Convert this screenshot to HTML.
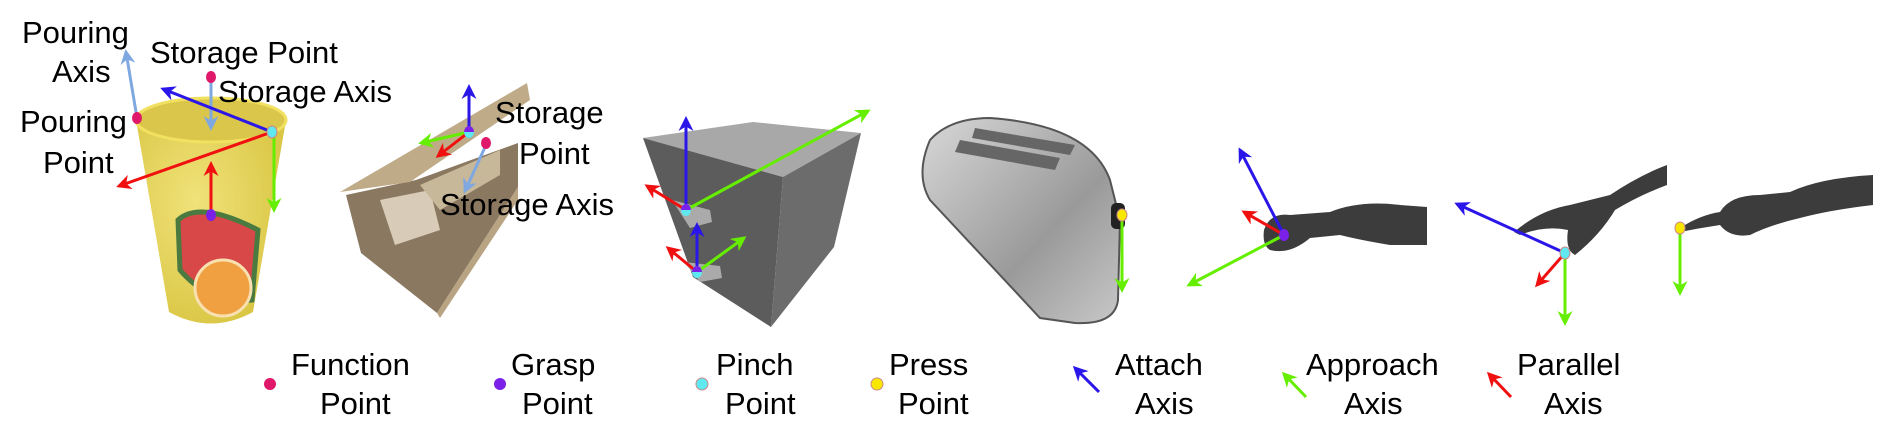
<!DOCTYPE html>
<html><head><meta charset="utf-8"><style>
html,body{margin:0;padding:0;background:#fff;}
svg{display:block;}
text{font-family:"Liberation Sans",sans-serif;font-size:31px;fill:#000;}
</style></head><body>
<svg width="1890" height="442" viewBox="0 0 1890 442">
<defs>
<marker id="hb" markerWidth="5" markerHeight="5" refX="4" refY="2.5" orient="auto" markerUnits="strokeWidth"><path d="M0,0 L5,2.5 L0,5 L1.5,2.5 Z" fill="#2a16e8"/></marker>
<marker id="hr" markerWidth="5" markerHeight="5" refX="4" refY="2.5" orient="auto" markerUnits="strokeWidth"><path d="M0,0 L5,2.5 L0,5 L1.5,2.5 Z" fill="#f01010"/></marker>
<marker id="hg" markerWidth="5" markerHeight="5" refX="4" refY="2.5" orient="auto" markerUnits="strokeWidth"><path d="M0,0 L5,2.5 L0,5 L1.5,2.5 Z" fill="#66ee00"/></marker>
<marker id="hl" markerWidth="5" markerHeight="5" refX="4" refY="2.5" orient="auto" markerUnits="strokeWidth"><path d="M0,0 L5,2.5 L0,5 L1.5,2.5 Z" fill="#80a8e0"/></marker>
<radialGradient id="cupg" cx="0.4" cy="0.4" r="0.7"><stop offset="0" stop-color="#f0e27a"/><stop offset="1" stop-color="#d8c440"/></radialGradient>
<linearGradient id="toastg" x1="0" y1="0" x2="1" y2="1"><stop offset="0" stop-color="#d8d8d8"/><stop offset="0.6" stop-color="#9a9a9a"/><stop offset="1" stop-color="#c8c8c8"/></linearGradient>
</defs>

<!-- Cup -->
<g>
<path d="M136,120 L169,312 Q211,335 253,312 L286,120 Z" fill="url(#cupg)"/>
<ellipse cx="211" cy="120" rx="75" ry="22" fill="#d9c64a" stroke="#f2e060" stroke-width="3"/>
<path d="M178,220 Q200,200 258,230 L252,300 Q210,305 180,270 Z" fill="#d84848" stroke="#4a7a40" stroke-width="5"/>
<circle cx="223" cy="288" r="28" fill="#f0a040" stroke="#f8e0b0" stroke-width="3"/>
</g>
<g>
<line x1="137" y1="118" x2="126" y2="52" stroke="#80a8e0" stroke-width="3" marker-end="url(#hl)"/>
<line x1="211" y1="82" x2="211" y2="128" stroke="#80a8e0" stroke-width="3" marker-end="url(#hl)"/>
<line x1="272" y1="132" x2="163" y2="89" stroke="#2a16e8" stroke-width="3" marker-end="url(#hb)"/>
<line x1="272" y1="132" x2="119" y2="186" stroke="#f01010" stroke-width="3" marker-end="url(#hr)"/>
<line x1="274" y1="132" x2="274" y2="210" stroke="#66ee00" stroke-width="3" marker-end="url(#hg)"/>
<line x1="211" y1="215" x2="211" y2="164" stroke="#f01010" stroke-width="3" marker-end="url(#hr)"/>
<ellipse cx="137" cy="118" rx="5" ry="6" fill="#e0186a"/>
<ellipse cx="211" cy="77" rx="5" ry="6" fill="#e0186a"/>
<ellipse cx="272" cy="132" rx="5" ry="6" fill="#60e8f0" stroke="#c88" stroke-width="1"/>
<ellipse cx="211" cy="215" rx="5" ry="6" fill="#7a20e8"/>
</g>
<g>
<text x="22" y="43">Pouring</text><text x="52" y="82">Axis</text>
<text x="150" y="63">Storage Point</text>
<text x="218" y="102">Storage Axis</text>
<text x="20" y="132">Pouring</text><text x="43" y="173">Point</text>
</g>

<!-- Box -->
<g>
<path d="M346,195 L416,180 L518,143 L518,187 L437,313 L361,253 Z" fill="#8a7860"/>
<path d="M380,200 L430,190 L440,230 L395,245 Z" fill="#d8ccb8"/>
<path d="M420,185 L500,150 L500,175 L440,210 Z" fill="#c8b89a"/>
<path d="M340,192 L527,83 L530,100 L410,182 Z" fill="#c0ab88"/>
<path d="M437,313 L518,187 L518,200 L440,318 Z" fill="#b8a482"/>
</g>
<g>
<line x1="469" y1="132" x2="469" y2="87" stroke="#2a16e8" stroke-width="3" marker-end="url(#hb)"/>
<line x1="469" y1="132" x2="421" y2="143" stroke="#66ee00" stroke-width="3" marker-end="url(#hg)"/>
<line x1="469" y1="132" x2="438" y2="156" stroke="#f01010" stroke-width="3" marker-end="url(#hr)"/>
<line x1="486" y1="145" x2="465" y2="191" stroke="#80a8e0" stroke-width="3" marker-end="url(#hl)"/>
<ellipse cx="469" cy="132" rx="5" ry="6" fill="#7a20e8"/>
<path d="M464,132 A5,6 0 0 0 474,132 Z" fill="#60e8f0"/>
<ellipse cx="486" cy="143" rx="5" ry="6" fill="#e0186a"/>
<text x="495" y="123">Storage</text><text x="519" y="164">Point</text>
<text x="440" y="215">Storage Axis</text>
</g>

<!-- Fridge -->
<g>
<path d="M643,138 L753,122 L861,133 L783,177 Z" fill="#a8a8a8"/>
<path d="M643,138 L783,177 L771,327 L693,277 Z" fill="#5c5c5c"/>
<path d="M783,177 L861,133 L834,247 L771,327 Z" fill="#6c6c6c"/>
<path d="M672,200 L710,210 L712,222 L690,228 Z" fill="#aaa"/>
<path d="M684,262 L720,266 L722,278 L700,282 Z" fill="#aaa"/>
</g>
<g>
<line x1="686" y1="210" x2="686" y2="119" stroke="#2a16e8" stroke-width="3" marker-end="url(#hb)"/>
<line x1="686" y1="210" x2="868" y2="111" stroke="#66ee00" stroke-width="3" marker-end="url(#hg)"/>
<line x1="686" y1="210" x2="647" y2="186" stroke="#f01010" stroke-width="3" marker-end="url(#hr)"/>
<line x1="697" y1="272" x2="697" y2="225" stroke="#2a16e8" stroke-width="3" marker-end="url(#hb)"/>
<line x1="697" y1="272" x2="744" y2="238" stroke="#66ee00" stroke-width="3" marker-end="url(#hg)"/>
<line x1="697" y1="272" x2="668" y2="248" stroke="#f01010" stroke-width="3" marker-end="url(#hr)"/>
<ellipse cx="686" cy="210" rx="5" ry="6" fill="#60e8f0"/><path d="M681,210 A5,6 0 0 1 691,210 Z" fill="#7a20e8"/>
<ellipse cx="697" cy="272" rx="5" ry="6" fill="#60e8f0"/><path d="M692,272 A5,6 0 0 1 702,272 Z" fill="#7a20e8"/>
</g>

<!-- Toaster -->
<g>
<path d="M930,140 Q950,118 990,118 Q1090,125 1110,180 L1120,220 L1118,300 Q1115,325 1075,323 L1040,318 L930,200 Q915,175 930,140 Z" fill="url(#toastg)" stroke="#555" stroke-width="2"/>
<path d="M975,128 L1075,145 L1070,155 L972,138 Z" fill="#666"/>
<path d="M960,140 L1060,158 L1055,170 L955,152 Z" fill="#666"/>
<rect x="1111" y="203" width="14" height="26" rx="5" fill="#222"/>
<line x1="1122" y1="215" x2="1122" y2="290" stroke="#66ee00" stroke-width="3" marker-end="url(#hg)"/>
<ellipse cx="1122" cy="215" rx="5" ry="6" fill="#f8e800" stroke="#c88" stroke-width="1"/>
</g>

<!-- Hands -->
<g>
<path d="M1264,230 Q1270,212 1290,215 L1330,212 Q1360,200 1400,205 L1427,207 L1427,245 L1390,245 Q1360,240 1340,235 L1310,238 Q1290,255 1270,250 Q1262,245 1264,230 Z" fill="#3c3c3c"/>
<line x1="1284" y1="235" x2="1240" y2="150" stroke="#2a16e8" stroke-width="3" marker-end="url(#hb)"/>
<line x1="1284" y1="235" x2="1244" y2="212" stroke="#f01010" stroke-width="3" marker-end="url(#hr)"/>
<line x1="1284" y1="235" x2="1189" y2="285" stroke="#66ee00" stroke-width="3" marker-end="url(#hg)"/>
<ellipse cx="1284" cy="235" rx="5" ry="6" fill="#7a20e8"/>
</g>
<g>
<path d="M1514,232 Q1540,210 1570,205 L1610,195 Q1640,175 1667,165 L1667,185 Q1640,195 1615,210 Q1600,235 1575,255 Q1565,250 1568,230 Q1545,225 1520,235 Z" fill="#3c3c3c"/>
<line x1="1565" y1="253" x2="1457" y2="204" stroke="#2a16e8" stroke-width="3" marker-end="url(#hb)"/>
<line x1="1565" y1="253" x2="1537" y2="285" stroke="#f01010" stroke-width="3" marker-end="url(#hr)"/>
<line x1="1565" y1="253" x2="1565" y2="323" stroke="#66ee00" stroke-width="3" marker-end="url(#hg)"/>
<ellipse cx="1565" cy="253" rx="5" ry="6" fill="#60e8f0" stroke="#c88" stroke-width="1"/>
</g>
<g>
<path d="M1680,228 Q1700,215 1720,212 Q1730,195 1760,195 L1790,192 Q1820,178 1873,175 L1873,205 Q1830,210 1800,218 Q1770,225 1750,235 Q1730,238 1720,225 Q1700,228 1680,232 Z" fill="#3c3c3c"/>
<line x1="1680" y1="228" x2="1680" y2="293" stroke="#66ee00" stroke-width="3" marker-end="url(#hg)"/>
<ellipse cx="1680" cy="228" rx="5" ry="6" fill="#f8e800" stroke="#c88" stroke-width="1"/>
</g>

<!-- Legend -->
<g>
<g><ellipse cx="270" cy="384" rx="6" ry="6" fill="#e0186a"/><text x="291" y="375">Function</text><text x="320" y="414">Point</text></g>
<g><ellipse cx="500" cy="384" rx="6" ry="6" fill="#7a20e8"/><text x="511" y="375">Grasp</text><text x="522" y="414">Point</text></g>
<g><ellipse cx="702" cy="384" rx="6" ry="6" fill="#60e8f0" stroke="#c88" stroke-width="1"/><text x="716" y="375">Pinch</text><text x="725" y="414">Point</text></g>
<g><ellipse cx="877" cy="384" rx="6" ry="6" fill="#f8e800" stroke="#c88" stroke-width="1"/><text x="889" y="375">Press</text><text x="898" y="414">Point</text></g>
<g><line x1="1099" y1="392" x2="1075" y2="368" stroke="#2a16e8" stroke-width="3" marker-end="url(#hb)"/><text x="1115" y="375">Attach</text><text x="1135" y="414">Axis</text></g>
<g><line x1="1306" y1="397" x2="1284" y2="374" stroke="#66ee00" stroke-width="3" marker-end="url(#hg)"/><text x="1306" y="375">Approach</text><text x="1344" y="414">Axis</text></g>
<g><line x1="1511" y1="397" x2="1489" y2="374" stroke="#f01010" stroke-width="3" marker-end="url(#hr)"/><text x="1517" y="375">Parallel</text><text x="1544" y="414">Axis</text></g>
</g>
</svg>
</body></html>
